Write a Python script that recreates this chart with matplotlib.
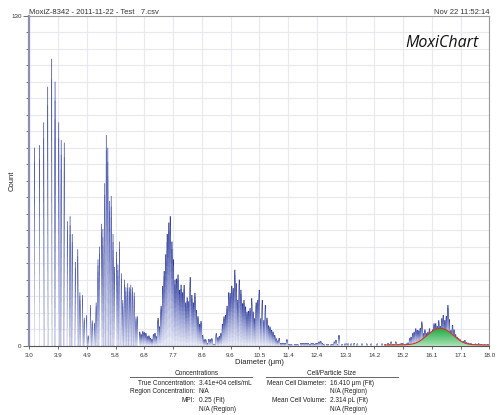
import numpy as np
import matplotlib
matplotlib.use('Agg')
import matplotlib.pyplot as plt
from matplotlib.colors import LinearSegmentedColormap
from matplotlib.lines import Line2D

plt.rcParams['font.family'] = ['Liberation Sans', 'DejaVu Sans']

# small diameters: discrete bins (um) and counts
sparse_x = [3.17, 3.33, 3.47, 3.60, 3.73, 3.84, 3.96, 4.04, 4.14, 4.24,
            4.33, 4.40, 4.50, 4.58, 4.65, 4.73, 4.79, 4.86, 4.92, 4.99,
            5.05, 5.12, 5.18, 5.24, 5.29, 5.35, 5.40, 5.46, 5.51, 5.56,
            5.62, 5.67, 5.73, 5.78, 5.84, 5.89, 5.94, 6.00, 6.05, 6.10,
            6.15, 6.21, 6.26, 6.31, 6.37, 6.42, 6.48, 6.53]
sparse_counts = [78, 79, 88, 102, 113, 104, 88, 81, 80, 49,
                 51, 44, 33, 38, 21, 20, 11, 12, 4, 16,
                 10, 9, 17, 34, 39, 48, 46, 64, 83, 78,
                 57, 59, 44, 31, 37, 32, 41, 28.5, 18, 26,
                 23, 24.6, 23, 24, 23, 21, 11.5, 11.6]

# larger diameters: bins 0.05 um apart, 6.60 .. 18.00
dense_start = 6.60
dense_step = 0.05
dense_counts = [
    5.5, 4.5, 5.7, 5.3, 5.0, 3.7, 4.0, 3.0, 2.6, 4.5,       # 6.60
    5.0, 3.7, 10.9, 7.6, 15.6, 23.5, 29.4, 36, 44, 48.5,    # 7.10
    51, 41, 34, 26, 26.4, 28, 22, 24, 21, 23.9,             # 7.60
    17, 19, 17.5, 27, 20, 17, 20.8, 14, 11.6, 8.5,          # 8.10
    9.7, 4.2, 2.5, 2.5, 1, 2.6, 2.5, 2.9, 0.7, 0.7,         # 8.60
    4.9, 3.3, 3.8, 5, 8.6, 11.5, 12.1, 15.7, 21, 20.7,      # 9.10
    23.6, 22.7, 29.9, 24.6, 18, 26, 22, 16.7, 18, 15.4,     # 9.60
    13.4, 13.7, 14.8, 18.7, 13.4, 10.8, 17, 18, 22, 10.8,   # 10.10
    18, 10.1, 16, 11, 8, 7.5, 6.2, 5.5, 4.2, 2.9,           # 10.60
    2, 3, 1, 1, 1, 1, 2.5, 0.5, 0.5, 0.5,                   # 11.10
    0, 0.5, 0.5, 0.5, 0, 1, 1, 1, 1, 1,                     # 11.60
    1, 0.5, 1, 1, 0.5, 1, 1, 1.6, 1.8, 1,                   # 12.10
    0.5, 0, 0.5, 0.5, 0, 0.5, 0.5, 1.6, 2.2, 0.5,           # 12.60
    4.2, 0, 0.5, 0, 0.8, 0.8, 0.8, 0, 0.8, 0,               # 13.10
    1, 0, 0.8, 0, 0, 0.8, 0, 0, 0.8, 0,                     # 13.60
    0, 0.8, 0, 0, 0, 0.8, 0, 0, 0.8, 0,                     # 14.10
    0.5, 0, 1, 0.5, 1.6, 0.5, 0.5, 1.6, 0.5, 0.5,           # 14.60
    0.8, 1, 0.8, 0.6, 0.8, 1.2, 2.9, 3.5, 4.9, 5.5,         # 15.10
    6.8, 6.2, 6.0, 7.0, 9.5, 4.9, 6.4, 4.9, 5.5, 6.8,       # 15.60
    4.9, 6.4, 8.8, 8.8, 7.8, 10.0, 7.8, 10.8, 12.1, 10.1,   # 16.10
    11.7, 16, 10.4, 6.2, 8.2, 6.4, 4.5, 3.5, 2.9, 2.5,      # 16.60
    1.6, 1.8, 2.2, 1.3, 1.2, 0.8, 0.9, 0.5, 0.6, 0.8,       # 17.10
    0.5, 0.9, 0.5, 0.6, 0.3, 0.5, 0.3, 0.5, 0.3]            # 17.60

# fitted peak
fit_x = [14.6, 14.8, 15.0, 15.1, 15.2, 15.3, 15.4, 15.5, 15.6, 15.7,
         15.8, 15.9, 16.0, 16.1, 16.2, 16.3, 16.4, 16.5, 16.6, 16.7,
         16.8, 16.9, 17.0, 17.1, 17.2, 17.3, 17.4, 17.5, 17.6, 17.7,
         17.8, 18.0]
fit_y = [0.3, 0.3, 0.32, 0.34, 0.36, 0.4, 0.5, 0.7, 1.05, 1.6,
         2.4, 3.4, 4.4, 5.4, 6.2, 6.7, 6.9, 6.7, 6.2, 5.4,
         4.4, 3.4, 2.4, 1.6, 1.05, 0.7, 0.5, 0.4, 0.36, 0.33,
         0.3, 0.3]

x_tick_labels = ['3.0', '3.9', '4.9', '5.8', '6.8', '7.7', '8.6', '9.6', '10.5',
                 '11.4', '12.4', '13.3', '14.2', '15.2', '16.1', '17.1', '18.0']

W, H = 502, 415
fig = plt.figure(figsize=(W / 100, H / 100), dpi=100)
ax = fig.add_axes([29.3 / W, 1 - 345.7 / H, 460 / W, 330 / H])

# dark at the bar top, fading out towards the baseline
blues = LinearSegmentedColormap.from_list(
    'moxi', [(0, '#2c3a96'), (0.08, '#4c58ac'), (0.5, '#9ea6d6'), (1, '#e8eaf6')])


def gradient_bars(x, h, w, n=14):
    h = np.asarray(h, dtype=float)
    for k in range(n):
        ax.bar(x, h * (n - k) / n, width=w, color=blues(k / (n - 1)),
               linewidth=0, snap=False, zorder=2 + k * 0.01)


gradient_bars(sparse_x, sparse_counts, 0.022)
dense_x = dense_start + dense_step * np.arange(len(dense_counts))
gradient_bars(dense_x, dense_counts, 0.038)

poly = ax.fill_between(fit_x, 0, fit_y, facecolor='none', edgecolor='none')
greens = LinearSegmentedColormap.from_list('fit', ['#a8e3b2', '#1fa843'])
grad = np.linspace(0, 1, 64).reshape(-1, 1)
im = ax.imshow(grad, extent=[fit_x[0], fit_x[-1], 0, max(fit_y)], origin='lower',
               cmap=greens, aspect='auto', zorder=3)
im.set_clip_path(poly.get_paths()[0], transform=ax.transData)
ax.plot(fit_x, fit_y, color='#d8322c', lw=0.8, zorder=4)

ax.set_xlim(3, 18)
ax.set_ylim(0, 130)
ax.set_xticks(np.linspace(3, 18, len(x_tick_labels)))
ax.set_xticklabels(x_tick_labels)
ax.set_yticks([0, 130])
ax.set_yticks(np.arange(0, 131, 6.5), minor=True)
ax.set_axisbelow(True)
ax.grid(axis='x', which='major', color='#e8e8f1', lw=0.8)
ax.grid(axis='y', which='minor', color='#e8e8f1', lw=0.8)

ax.tick_params(axis='x', length=2, width=0.6, color='#555', pad=3.5,
               labelsize=4.5, labelcolor='#333')
ax.tick_params(axis='y', which='major', length=4, width=0.6, color='#555',
               pad=1.5, labelsize=4.5, labelcolor='#333')
ax.tick_params(axis='y', which='minor', length=2, width=0.6, color='#555')

ax.spines['left'].set_color('#8a90b0')
ax.spines['left'].set_linewidth(1.6)
ax.spines['bottom'].set_color('#555')
ax.spines['bottom'].set_linewidth(0.8)
for s in ['top', 'right']:
    ax.spines[s].set_color('#999')
    ax.spines[s].set_linewidth(0.8)

ax.set_xlabel('Diameter (μm)', fontsize=5.5, color='#222')
ax.xaxis.set_label_coords(0.5, -0.040)
ax.set_ylabel('Count', fontsize=5.5, color='#222')
ax.yaxis.set_label_coords(-0.030, 0.5)

ax.text(0.9776, 0.906, 'MoxiChart', transform=ax.transAxes, ha='right',
        va='baseline', family='Open Sans', style='italic', fontsize=11.5,
        color='#111', zorder=6)

fig.text(29.3 / W, 1 - 14.3 / H, 'MoxiZ-8342 - 2011-11-22 - Test   7.csv',
         fontsize=5.5, color='#333', va='baseline', ha='left')
fig.text(489.3 / W, 1 - 14.3 / H, 'Nov 22 11:52:14',
         fontsize=5.5, color='#333', va='baseline', ha='right')


def ftext(px, py, s, ha):
    fig.text(px / W, 1 - py / H, s, fontsize=4.7, color='#222', ha=ha, va='center')


ftext(197, 373.7, 'Concentrations', 'center')
ftext(332, 373.7, 'Cell/Particle Size', 'center')
for x0, x1 in [(130, 252), (266, 398)]:
    fig.add_artist(Line2D([x0 / W, x1 / W], [1 - 377.3 / H] * 2,
                          transform=fig.transFigure, color='#666', lw=0.7))

rows_y = [383, 391.7, 400.7, 409.7]
left_labels = ['True Concentration:', 'Region Concentration:', 'MPI:', '']
left_values = ['3.41e+04 cells/mL', 'N/A', '0.25 (Fit)', 'N/A (Region)']
right_labels = ['Mean Cell Diameter:', '', 'Mean Cell Volume:', '']
right_values = ['16.410 μm (Fit)', 'N/A (Region)', '2.314 pL (Fit)', 'N/A (Region)']
for y, a, b, c, d in zip(rows_y, left_labels, left_values, right_labels, right_values):
    ftext(195, y, a, 'right')
    ftext(199, y, b, 'left')
    ftext(326.5, y, c, 'right')
    ftext(330, y, d, 'left')

fig.savefig('out.png', dpi=100)
